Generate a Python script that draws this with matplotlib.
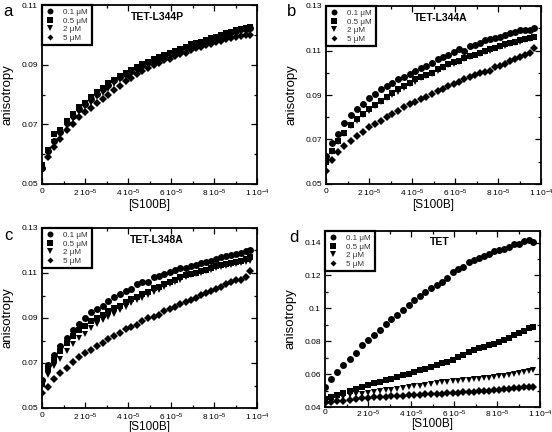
import numpy as np
import matplotlib
matplotlib.use("Agg")
import matplotlib.pyplot as plt

plt.rcParams['font.family'] = ['Liberation Sans', 'DejaVu Sans']
plt.rcParams['mathtext.fontset'] = 'custom'
plt.rcParams['mathtext.rm'] = 'Liberation Sans'
plt.rcParams['mathtext.it'] = 'Liberation Sans:italic'

# ---------------- data ----------------
# [S100B] in units of 1e-5 M
s100b = [0.00, 0.29, 0.58, 0.86, 1.15, 1.43, 1.71, 1.99, 2.27, 2.54,
         2.82, 3.09, 3.36, 3.62, 3.89, 4.15, 4.41, 4.67, 4.93, 5.19,
         5.44, 5.69, 5.94, 6.19, 6.44, 6.68, 6.93, 7.17, 7.41, 7.64,
         7.88, 8.11, 8.34, 8.57, 8.80, 9.03, 9.25, 9.47, 9.69]

conc_labels = ['0.1 \u03bcM', '0.5 \u03bcM', '2 \u03bcM', '5 \u03bcM']

# panel a : TET-L344P
a_01 = [0.0555, 0.0610, 0.0645, 0.0675, 0.0705, 0.0728, 0.0752, 0.0768, 0.0785, 0.0802,
        0.0818, 0.0832, 0.0847, 0.0860, 0.0870, 0.0880, 0.0890, 0.0899, 0.0908, 0.0916,
        0.0923, 0.0930, 0.0938, 0.0944, 0.0950, 0.0958, 0.0965, 0.0970, 0.0975, 0.0980,
        0.0985, 0.0990, 0.0997, 0.1003, 0.1008, 0.1013, 0.1018, 0.1020, 0.1022]
a_05 = [0.0565, 0.0615, 0.0667, 0.0682, 0.0712, 0.0735, 0.0757, 0.0773, 0.0790, 0.0807,
        0.0822, 0.0837, 0.0850, 0.0863, 0.0873, 0.0883, 0.0893, 0.0902, 0.0910, 0.0918,
        0.0925, 0.0932, 0.0940, 0.0946, 0.0952, 0.0960, 0.0968, 0.0972, 0.0977, 0.0983,
        0.0988, 0.0993, 0.1000, 0.1005, 0.1010, 0.1015, 0.1020, 0.1022, 0.1025]
a_2 = [0.0560, 0.0605, 0.0640, 0.0665, 0.0695, 0.0718, 0.0740, 0.0757, 0.0773, 0.0790,
       0.0805, 0.0820, 0.0835, 0.0848, 0.0860, 0.0870, 0.0880, 0.0890, 0.0900, 0.0908,
       0.0915, 0.0922, 0.0930, 0.0937, 0.0943, 0.0950, 0.0957, 0.0962, 0.0967, 0.0972,
       0.0977, 0.0982, 0.0988, 0.0995, 0.1000, 0.1005, 0.1010, 0.1013, 0.1015]
a_5 = [0.0550, 0.0590, 0.0625, 0.0650, 0.0680, 0.0700, 0.0725, 0.0740, 0.0755, 0.0770,
       0.0785, 0.0800, 0.0815, 0.0830, 0.0845, 0.0855, 0.0870, 0.0880, 0.0890, 0.0900,
       0.0905, 0.0915, 0.0920, 0.0930, 0.0935, 0.0940, 0.0950, 0.0955, 0.0960, 0.0965,
       0.0970, 0.0975, 0.0980, 0.0985, 0.0990, 0.0992, 0.0995, 0.1000, 0.1000]

# panel b : TET-L344A
b_01 = [0.0625, 0.0685, 0.0725, 0.0775, 0.0810, 0.0835, 0.0860, 0.0885, 0.0905, 0.0925,
        0.0940, 0.0955, 0.0970, 0.0980, 0.0995, 0.1010, 0.1020, 0.1030, 0.1045, 0.1060,
        0.1070, 0.1078, 0.1095, 0.1105, 0.1100, 0.1120, 0.1125, 0.1135, 0.1145, 0.1150,
        0.1155, 0.1160, 0.1170, 0.1180, 0.1185, 0.1190, 0.1190, 0.1190, 0.1200]
b_05 = [0.0600, 0.0650, 0.0695, 0.0730, 0.0765, 0.0790, 0.0815, 0.0835, 0.0855, 0.0875,
        0.0890, 0.0910, 0.0925, 0.0940, 0.0955, 0.0970, 0.0980, 0.0990, 0.1000, 0.1015,
        0.1025, 0.1040, 0.1050, 0.1055, 0.1065, 0.1075, 0.1080, 0.1090, 0.1100, 0.1105,
        0.1110, 0.1120, 0.1130, 0.1135, 0.1140, 0.1145, 0.1150, 0.1155, 0.1160]
b_2 = [0.0590, 0.0645, 0.0690, 0.0725, 0.0760, 0.0785, 0.0810, 0.0830, 0.0850, 0.0870,
       0.0885, 0.0900, 0.0915, 0.0930, 0.0950, 0.0960, 0.0975, 0.0985, 0.0995, 0.1010,
       0.1020, 0.1035, 0.1040, 0.1050, 0.1060, 0.1070, 0.1080, 0.1085, 0.1095, 0.1100,
       0.1110, 0.1115, 0.1120, 0.1130, 0.1135, 0.1140, 0.1145, 0.1150, 0.1160]
b_5 = [0.0560, 0.0610, 0.0645, 0.0670, 0.0695, 0.0715, 0.0735, 0.0755, 0.0770, 0.0785,
       0.0800, 0.0815, 0.0830, 0.0845, 0.0860, 0.0870, 0.0880, 0.0893, 0.0905, 0.0918,
       0.0928, 0.0940, 0.0950, 0.0960, 0.0970, 0.0980, 0.0990, 0.1000, 0.1005, 0.1010,
       0.1025, 0.1030, 0.1040, 0.1055, 0.1060, 0.1070, 0.1080, 0.1090, 0.1110]

# panel c : TET-L348A
c_01 = [0.0625, 0.0690, 0.0735, 0.0775, 0.0810, 0.0845, 0.0875, 0.0900, 0.0925, 0.0940,
        0.0955, 0.0975, 0.0995, 0.1005, 0.1020, 0.1030, 0.1050, 0.1058, 0.1060, 0.1080,
        0.1088, 0.1095, 0.1105, 0.1115, 0.1120, 0.1122, 0.1130, 0.1135, 0.1145, 0.1150,
        0.1155, 0.1160, 0.1170, 0.1175, 0.1180, 0.1185, 0.1190, 0.1198, 0.1200]
c_05 = [0.0610, 0.0675, 0.0715, 0.0755, 0.0790, 0.0820, 0.0845, 0.0865, 0.0885, 0.0900,
        0.0915, 0.0930, 0.0945, 0.0955, 0.0970, 0.0985, 0.0995, 0.1005, 0.1015, 0.1035,
        0.1040, 0.1050, 0.1060, 0.1070, 0.1080, 0.1090, 0.1095, 0.1100, 0.1110, 0.1115,
        0.1120, 0.1130, 0.1135, 0.1140, 0.1145, 0.1150, 0.1155, 0.1160, 0.1170]
c_2 = [0.0600, 0.0645, 0.0685, 0.0720, 0.0755, 0.0785, 0.0810, 0.0830, 0.0855, 0.0875,
       0.0890, 0.0905, 0.0920, 0.0935, 0.0950, 0.0965, 0.0980, 0.0990, 0.1000, 0.1015,
       0.1025, 0.1040, 0.1050, 0.1060, 0.1070, 0.1080, 0.1090, 0.1095, 0.1100, 0.1110,
       0.1115, 0.1120, 0.1125, 0.1130, 0.1135, 0.1140, 0.1145, 0.1150, 0.1155]
c_5 = [0.0565, 0.0595, 0.0630, 0.0655, 0.0680, 0.0705, 0.0725, 0.0745, 0.0760, 0.0775,
       0.0790, 0.0805, 0.0820, 0.0835, 0.0850, 0.0860, 0.0870, 0.0885, 0.0900, 0.0905,
       0.0915, 0.0930, 0.0940, 0.0950, 0.0960, 0.0970, 0.0980, 0.0990, 0.1000, 0.1010,
       0.1020, 0.1030, 0.1040, 0.1050, 0.1060, 0.1070, 0.1070, 0.1080, 0.1110]

# panel d : TET
d_01 = [0.0520, 0.0570, 0.0615, 0.0656, 0.0692, 0.0731, 0.0774, 0.0810, 0.0839, 0.0871,
        0.0904, 0.0932, 0.0958, 0.0989, 0.1019, 0.1050, 0.1072, 0.1098, 0.1123, 0.1143,
        0.1159, 0.1184, 0.1218, 0.1240, 0.1251, 0.1281, 0.1295, 0.1305, 0.1318, 0.1330,
        0.1346, 0.1354, 0.1360, 0.1375, 0.1391, 0.1393, 0.1411, 0.1413, 0.1403]
d_05 = [0.0447, 0.0460, 0.0474, 0.0487, 0.0499, 0.0510, 0.0522, 0.0533, 0.0543, 0.0553,
        0.0563, 0.0573, 0.0585, 0.0595, 0.0603, 0.0614, 0.0625, 0.0634, 0.0642, 0.0653,
        0.0665, 0.0676, 0.0688, 0.0705, 0.0719, 0.0732, 0.0744, 0.0756, 0.0766, 0.0775,
        0.0786, 0.0795, 0.0807, 0.0821, 0.0836, 0.0851, 0.0864, 0.0878, 0.0888]
d_2 = [0.0440, 0.0448, 0.0456, 0.0463, 0.0470, 0.0476, 0.0482, 0.0488, 0.0493, 0.0497,
       0.0502, 0.0505, 0.0510, 0.0515, 0.0520, 0.0525, 0.0530, 0.0535, 0.0540, 0.0545,
       0.0550, 0.0554, 0.0557, 0.0560, 0.0563, 0.0566, 0.0569, 0.0572, 0.0575, 0.0578,
       0.0582, 0.0586, 0.0590, 0.0594, 0.0598, 0.0604, 0.0610, 0.0617, 0.0624]
d_5 = [0.0422, 0.0428, 0.0434, 0.0439, 0.0444, 0.0448, 0.0452, 0.0455, 0.0458, 0.0460,
       0.0462, 0.0464, 0.0466, 0.0468, 0.0470, 0.0472, 0.0474, 0.0476, 0.0478, 0.0480,
       0.0482, 0.0484, 0.0486, 0.0488, 0.0490, 0.0492, 0.0494, 0.0496, 0.0498, 0.0500,
       0.0502, 0.0504, 0.0507, 0.0510, 0.0513, 0.0516, 0.0519, 0.0521, 0.0523]

x_tick_vals = [0, 2e-5, 4e-5, 6e-5, 8e-5, 1e-4]
x_tick_labels = ['0', r'2 10$^{-5}$', r'4 10$^{-5}$', r'6 10$^{-5}$', r'8 10$^{-5}$', r'1 10$^{-4}$']

# ---------------- figure ----------------
fig = plt.figure(figsize=(5.52, 4.32), dpi=100)

W, H = 552.0, 432.0
def box(l, r, t, b):
    return [l / W, 1 - b / H, (r - l) / W, (b - t) / H]

markers = [('o', 5.0), ('s', 4.4), ('v', 5.0), ('D', 3.6)]

panels = [
    dict(rect=box(42, 257, 5, 184), series=[a_01, a_05, a_2, a_5], title='TET-L344P',
         ylim=(0.05, 0.11), yt=[0.05, 0.07, 0.09, 0.11], ytl=['0.05', '0.07', '0.09', '0.11'],
         letter='a', lxy=(3, 12), xpad=3, xlp=0),
    dict(rect=box(326, 541, 6, 184), series=[b_01, b_05, b_2, b_5], title='TET-L344A',
         ylim=(0.05, 0.13), yt=[0.05, 0.07, 0.09, 0.11, 0.13],
         ytl=['0.05', '0.07', '0.09', '0.11', '0.13'], letter='b', lxy=(287, 12),
         xpad=3, xlp=0),
    dict(rect=box(42, 257, 228, 408), series=[c_01, c_05, c_2, c_5], title='TET-L348A',
         ylim=(0.05, 0.13), yt=[0.05, 0.07, 0.09, 0.11, 0.13],
         ytl=['0.05', '0.07', '0.09', '0.11', '0.13'], letter='c', lxy=(4, 235),
         xpad=3, xlp=-1.5),
    dict(rect=box(325, 540, 231, 407), series=[d_01, d_05, d_2, d_5], title='TET',
         ylim=(0.04, 0.147), yt=[0.04, 0.06, 0.08, 0.10, 0.12, 0.14],
         ytl=['0.04', '0.06', '0.08', '0.1', '0.12', '0.14'], letter='d', lxy=(289, 237),
         xpad=1.5, xlp=-1.5),
]

x = np.array(s100b) * 1e-5

for p in panels:
    ax = fig.add_axes(p['rect'])
    for (m, ms), y, lab in zip(markers, p['series'], conc_labels):
        ax.plot(x, y, linestyle='none', marker=m, ms=ms, color='black',
                markeredgewidth=0, label=lab)
    ax.set_xlim(0, 1e-4)
    ax.set_ylim(*p['ylim'])
    ax.set_xticks(x_tick_vals)
    ax.set_xticklabels(x_tick_labels)
    ax.set_xticks(np.arange(1e-5, 1e-4, 2e-5), minor=True)
    ax.set_yticks(p['yt'])
    ax.set_yticklabels(p['ytl'])
    ax.set_yticks(np.array(p['yt'][:-1]) + 0.01, minor=True)
    ax.tick_params(which='both', direction='in', top=True, right=True,
                   labelsize=6, width=0.9)
    ax.tick_params(axis='y', pad=3)
    ax.tick_params(axis='x', pad=p['xpad'])
    ax.tick_params(which='major', length=4)
    ax.tick_params(which='minor', length=2.5)
    for sp in ax.spines.values():
        sp.set_linewidth(1.3)
    ax.set_xlabel('[S100B]', fontsize=8.5, labelpad=p['xlp'])
    ax.set_ylabel('anisotropy', fontsize=9.5, labelpad=5.5)
    ax.text(0.535, 0.935, p['title'], transform=ax.transAxes, ha='center', va='center',
            fontsize=7.5, fontweight='bold')
    leg = ax.legend(loc='upper left', borderaxespad=0, fontsize=5.8, frameon=True,
                    fancybox=False, framealpha=1, handlelength=1.2, handletextpad=1.0,
                    labelspacing=0.1, borderpad=0.45, markerscale=0.85)
    leg.get_frame().set_edgecolor('black')
    leg.get_frame().set_linewidth(1.6)
    for t in leg.get_texts():
        t.set_color('#333333')
    fig.text(p['lxy'][0] / W, 1 - p['lxy'][1] / H, p['letter'], fontsize=12,
             ha='left', va='center')

fig.savefig('out.png', dpi=100)
